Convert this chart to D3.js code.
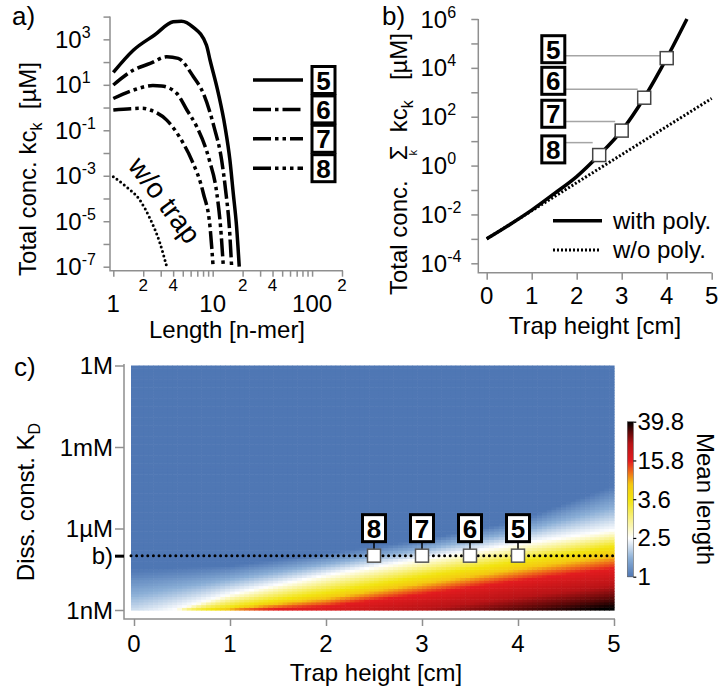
<!DOCTYPE html>
<html>
<head>
<meta charset="utf-8">
<script src="https://cdn.jsdelivr.net/npm/d3@7"></script>
<style>
  body { margin: 0; background: #fff; }
  text { font-family: "Liberation Sans", Arial, sans-serif; fill: #000; }
</style>
</head>
<body>
<svg id="fig" width="719" height="691"></svg>
<script>
// ---- panel a: total concentration vs length (uM) ----
const len5 = [1, 1.6, 2.6, 4.0, 4.85, 6.3, 8.65, 9.4, 11.4, 13.3, 14.9, 16.1, 17.4, 18.5];
const conc5 = [35, 340, 1550, 5900, 6300, 3550, 560, 123, 4.2, 0.145, 4.9e-3, 1.7e-4, 5.7e-6, 1e-7];
const len6 = [1, 1.6, 2.35, 3.45, 4.5, 6.4, 8.05, 10.3, 12.3, 13.6, 14.7, 15.5];
const conc6 = [9.8, 45, 87, 170, 145, 22.6, 4.2, 0.145, 4.9e-3, 1.7e-4, 5.7e-6, 1e-7];
const len7 = [1, 1.6, 2.5, 3.05, 4.35, 5.5, 6.9, 9.25, 11.0, 12.0, 12.8];
const conc7 = [2.5, 5.9, 9.3, 8.9, 4.2, 0.78, 0.145, 4.9e-3, 1.7e-4, 5.7e-6, 1e-7];
const len8 = [1, 1.5, 1.95, 2.35, 3.45, 5.05, 6.15, 8.05, 9.4, 10.1];
const conc8 = [0.78, 0.89, 0.93, 0.78, 0.28, 0.027, 4.9e-3, 1.7e-4, 5.7e-6, 1e-7];
const lenNoTrap = [1, 1.35, 1.85, 2.35, 2.95, 3.45];
const concNoTrap = [9.1e-4, 3.3e-4, 8.5e-5, 1.26e-5, 1.07e-6, 1e-7];
const seriesLabels = ["5", "6", "7", "8"];

// ---- panel b: total concentration vs trap height ----
const trapHeights = [0, 0.5, 1, 1.5, 2, 2.5, 3, 3.5, 4, 4.45];
const concWithPoly = [1e-3, 3.7e-3, 0.015, 0.071, 0.355, 2.7, 27, 600, 2.5e4, 1e6];
const trapHeightsNoPoly = [0, 5];
const concNoPoly = [1e-3, 560];
const markHeights = [2.5, 3, 3.5, 4];
const markLabels = ["8", "7", "6", "5"];

// ---- panel c: mean length map, read as contour positions (log10 KD in M) ----
const contourHeights = [0, 1, 2, 3, 4, 5];
const logKdBlue   = [-7.5, -7.35, -6.9, -6.4, -5.7, -4.4];
const logKdWhite  = [-9.4, -8.4, -7.7, -7.1, -6.55, -6.05];
const logKdYellow = [-9.3, -8.88, -8.35, -7.75, -7.2, -6.65];
const logKdRed    = [-9.6, -9.05, -8.85, -8.4, -7.9, -7.45];
const logKdBlack  = [-11, -10.5, -10.1, -9.7, -9.3, -8.9];
const kdTicks = [1, 1e-3, 1e-6, 1e-7, 1e-9];
const kdTickLabels = ["1M", "1mM", "1µM", "b)", "1nM"];
const kdSlice = 1e-7;
const colorbarLabels = ["1", "2.5", "3.6", "15.8", "39.8"];

const svg = d3.select("#fig");
const gray = "#8f8f8f";
const nb = "\u00A0";

function styleAxis(g) {
  g.select(".domain").remove();
  g.selectAll(".tick line").attr("stroke", gray).attr("stroke-width", 1.5);
}

function numBox(g, cx, cy, label) {
  g.append("rect")
    .attr("x", cx - 11.5).attr("y", cy - 13.5)
    .attr("width", 23).attr("height", 27)
    .attr("fill", "#fff").attr("stroke", "#000").attr("stroke-width", 3);
  g.append("text")
    .attr("x", cx).attr("y", cy + 9.5)
    .attr("text-anchor", "middle")
    .attr("font-size", 26).attr("font-weight", "bold")
    .text(label);
}

function powLabel(g, x, y, exp) {
  const t = g.append("text").attr("x", x).attr("y", y).attr("font-size", 24);
  t.append("tspan").text("10");
  t.append("tspan").attr("font-size", 16).attr("dy", -10).text(exp);
}

// ================= panel a =================
const xA = d3.scaleLog().domain([1, 200]).range([113.3, 342]);
const yA = d3.scaleLog().domain([1e-7, 1e4]).range([266.7, 16.6]);
const gA = svg.append("g");

gA.append("path")
  .attr("d", `M110,${yA(1e4)}V270.7H343`)
  .attr("fill", "none").attr("stroke", gray).attr("stroke-width", 1.5);

gA.append("g").attr("transform", "translate(110,0)")
  .call(d3.axisLeft(yA).tickValues(d3.range(-7, 5).map(e => Math.pow(10, e))).tickSize(6.5).tickFormat(""))
  .call(styleAxis);
[3, 1, -1, -3, -5, -7].forEach(e => powLabel(gA, 55, yA(Math.pow(10, e)) + 8.5, String(e)));

const lenTicks = d3.range(1, 10).concat(d3.range(10, 100, 10), [100, 200]);
gA.append("g").attr("transform", "translate(0,270.7)")
  .call(d3.axisBottom(xA).tickValues(lenTicks).tickSize(6).tickFormat(""))
  .call(styleAxis);
[2, 4, 20, 40, 200].forEach(v => {
  gA.append("text").attr("x", xA(v)).attr("y", 291).attr("text-anchor", "middle")
    .attr("font-size", 17).text(String(v)[0]);
});
[1, 10, 100].forEach(v => {
  gA.append("text").attr("x", xA(v)).attr("y", 312).attr("text-anchor", "middle")
    .attr("font-size", 24).text(v);
});
gA.append("text").attr("x", 227).attr("y", 338).attr("text-anchor", "middle")
  .attr("font-size", 24).text("Length [n-mer]");

const yTitleA = gA.append("text").attr("transform", "translate(36,169) rotate(-90)")
  .attr("text-anchor", "middle").attr("font-size", 24);
yTitleA.append("tspan").text("Total conc. kc");
yTitleA.append("tspan").attr("font-size", 16).attr("dy", 6).text("k");
yTitleA.append("tspan").attr("dy", -6).text(nb + nb + "[µM]");

gA.append("text").attr("x", 12).attr("y", 25).attr("font-size", 26).text("a)");

const lineA = d3.line().x(d => xA(d[0])).y(d => yA(d[1])).curve(d3.curveMonotoneX);
const curvesA = [
  { len: len5, conc: conc5, dash: null },
  { len: len6, conc: conc6, dash: "18,4,3.5,4" },
  { len: len7, conc: conc7, dash: "18,4,3.5,4,3.5,4" },
  { len: len8, conc: conc8, dash: "18,4,3.5,4,3.5,4,3.5,4" }
];
curvesA.forEach(c => {
  gA.append("path").datum(d3.zip(c.len, c.conc)).attr("d", lineA)
    .attr("fill", "none").attr("stroke", "#000").attr("stroke-width", 3.5)
    .attr("stroke-dasharray", c.dash);
});
gA.append("path").datum(d3.zip(lenNoTrap, concNoTrap)).attr("d", lineA)
  .attr("fill", "none").attr("stroke", "#000").attr("stroke-width", 3)
  .attr("stroke-linecap", "round").attr("stroke-dasharray", "0,4.6");
gA.append("text").attr("transform", "translate(157,206) rotate(53)")
  .attr("text-anchor", "middle").attr("font-size", 28).text("w/o trap");

curvesA.forEach((c, i) => {
  const y = 80 + i * 29.4;
  gA.append("line").attr("x1", 253).attr("x2", 303).attr("y1", y).attr("y2", y)
    .attr("stroke", "#000").attr("stroke-width", 3.5).attr("stroke-dasharray", c.dash);
  numBox(gA, 323.5, y, seriesLabels[i]);
});

// ================= panel b =================
const xB = d3.scaleLinear().domain([0, 5]).range([486.7, 711.7]);
const yB = d3.scaleLog().domain([1e-4, 1e6]).range([263.3, 19]);
const gB = svg.append("g");

gB.append("path")
  .attr("d", `M478.3,${yB(1e6)}V272.7H711.7`)
  .attr("fill", "none").attr("stroke", gray).attr("stroke-width", 1.5);
gB.append("g").attr("transform", "translate(478.3,0)")
  .call(d3.axisLeft(yB).tickValues(d3.range(-4, 7).map(e => Math.pow(10, e))).tickSize(7).tickFormat(""))
  .call(styleAxis);
[6, 4, 2, 0, -2, -4].forEach(e => powLabel(gB, 420.5, yB(Math.pow(10, e)) + 8.5, String(e)));
gB.append("g").attr("transform", "translate(0,272.7)")
  .call(d3.axisBottom(xB).tickValues(d3.range(0, 6)).tickSize(7).tickFormat(""))
  .call(styleAxis);
d3.range(0, 6).forEach(v => {
  gB.append("text").attr("x", xB(v)).attr("y", 304).attr("text-anchor", "middle")
    .attr("font-size", 24).text(v);
});
gB.append("text").attr("x", 595).attr("y", 334).attr("text-anchor", "middle")
  .attr("font-size", 24).text("Trap height [cm]");

const yTitleB = gB.append("text").attr("transform", "translate(407,164) rotate(-90)")
  .attr("text-anchor", "middle").attr("font-size", 24);
yTitleB.append("tspan").text("Total conc." + nb + nb + nb + "Σ");
yTitleB.append("tspan").attr("font-size", 11).attr("dx", -10).attr("dy", 10).text("k");
yTitleB.append("tspan").attr("dx", 4.5).attr("dy", -10).text(nb + nb + "kc");
yTitleB.append("tspan").attr("font-size", 16).attr("dy", 6).text("k");
yTitleB.append("tspan").attr("dy", -6).text(nb + nb + nb + "[µM]");

gB.append("text").attr("x", 382).attr("y", 25).attr("font-size", 26).text("b)");

const lineB = d3.line().x(d => xB(d[0])).y(d => yB(d[1])).curve(d3.curveMonotoneX);
gB.append("path").datum(d3.zip(trapHeightsNoPoly, concNoPoly)).attr("d", lineB)
  .attr("fill", "none").attr("stroke", "#000").attr("stroke-width", 3)
  .attr("stroke-dasharray", "2,2");
gB.append("path").datum(d3.zip(trapHeights, concWithPoly)).attr("d", lineB)
  .attr("fill", "none").attr("stroke", "#000").attr("stroke-width", 3.5);

// number boxes with grey leaders (annotation layout, concentrations on the y scale)
const boxConcB = [4.6, 132, 2950, 5.8e4];
const leaderConcB = [8.7, 63, 1320, 3.1e4];
markHeights.forEach((h, i) => {
  const v = concWithPoly[trapHeights.indexOf(h)];
  gB.append("line").attr("x1", 565).attr("x2", xB(h) - 6.5)
    .attr("y1", yB(leaderConcB[i])).attr("y2", yB(leaderConcB[i]))
    .attr("stroke", "#a5a5a5").attr("stroke-width", 1.5);
  gB.append("rect").attr("x", xB(h) - 6.5).attr("y", yB(v) - 6.5)
    .attr("width", 13).attr("height", 13)
    .attr("fill", "#fff").attr("stroke", "#444").attr("stroke-width", 1.5);
  numBox(gB, 553.3, yB(boxConcB[i]), markLabels[i]);
});

gB.append("line").attr("x1", 553).attr("x2", 602).attr("y1", 220.7).attr("y2", 220.7)
  .attr("stroke", "#000").attr("stroke-width", 3.5);
gB.append("text").attr("x", 613).attr("y", 229).attr("font-size", 24).text("with poly.");
gB.append("line").attr("x1", 553).attr("x2", 600).attr("y1", 250).attr("y2", 250)
  .attr("stroke", "#000").attr("stroke-width", 3).attr("stroke-dasharray", "2,2");
gB.append("text").attr("x", 613).attr("y", 258).attr("font-size", 24).text("w/o poly.");

// ================= panel c =================
const xC = d3.scaleLinear().domain([0, 5]).range([134, 614]);
const yC = d3.scaleLog().domain([1e-9, 1]).range([610, 365.5]);
const gC = svg.append("g");

const cmap = d3.scaleLinear()
  .domain([0, 0.12, 0.25, 0.5, 0.6, 0.68, 0.75, 0.86, 0.94, 1])
  .range(["#4f77b4", "#8aaed6", "#ffffff", "#f2e40f", "#f4c812", "#ee6a1a", "#e31c1f", "#b81417", "#5a0808", "#000000"])
  .interpolate(d3.interpolateRgb);

const levels = [logKdBlue, logKdWhite, logKdYellow, logKdRed, logKdBlack]
  .map(arr => d3.scaleLinear().domain(contourHeights).range(arr));
function levelAt(h, lk) {
  const c = levels.map(s => s(h));
  if (lk >= c[0]) return 0;
  for (let i = 0; i < c.length - 1; i++) {
    if (lk >= c[i + 1]) return (i + (c[i] - lk) / (c[i] - c[i + 1])) / 4;
  }
  return 1;
}

const dh = 0.05, dk = 0.1;
const hSteps = d3.range(0, 5 - 1e-9, dh);
const kSteps = d3.range(-9, -1e-9, dk);
const cells = d3.cross(hSteps, kSteps).map(([h, k]) => ({ h, k, t: levelAt(h + dh / 2, k + dk / 2) }));
gC.append("g").selectAll("rect").data(cells).join("rect")
  .attr("x", d => xC(d.h) - (d.h === 0 ? 3 : 0))
  .attr("width", d => xC(d.h + dh) - xC(d.h) + 0.6 + (d.h === 0 ? 3 : 0))
  .attr("y", d => yC(Math.pow(10, d.k + dk)))
  .attr("height", d => yC(Math.pow(10, d.k)) - yC(Math.pow(10, d.k + dk)) + 0.6)
  .attr("fill", d => cmap(d.t));

gC.append("path").attr("d", `M124,364V619H615`)
  .attr("fill", "none").attr("stroke", gray).attr("stroke-width", 1.5);
const yAxC = gC.append("g").attr("transform", "translate(124,0)")
  .call(d3.axisLeft(yC).tickValues(kdTicks).tickSize(9).tickFormat(""))
  .call(styleAxis);
yAxC.selectAll(".tick line").filter(d => d === kdSlice).attr("stroke", "#000").attr("stroke-width", 3);
kdTicks.forEach((v, i) => {
  gC.append("text").attr("x", 113).attr("y", yC(v) + 8.5).attr("text-anchor", "end")
    .attr("font-size", 24).text(kdTickLabels[i]);
});
gC.append("g").attr("transform", "translate(0,619)")
  .call(d3.axisBottom(xC).tickValues(d3.range(0, 6)).tickSize(7).tickFormat(""))
  .call(styleAxis);
d3.range(0, 6).forEach(v => {
  gC.append("text").attr("x", xC(v)).attr("y", 652).attr("text-anchor", "middle")
    .attr("font-size", 24).text(v);
});
gC.append("text").attr("x", 376).attr("y", 681).attr("text-anchor", "middle")
  .attr("font-size", 24).text("Trap height [cm]");
const yTitleC = gC.append("text").attr("transform", "translate(34,502) rotate(-90)")
  .attr("text-anchor", "middle").attr("font-size", 24);
yTitleC.append("tspan").text("Diss. const. K");
yTitleC.append("tspan").attr("font-size", 16).attr("dy", 6).text("D");
gC.append("text").attr("x", 14).attr("y", 376).attr("font-size", 26).text("c)");

gC.append("line").attr("x1", 131).attr("x2", 614).attr("y1", yC(kdSlice)).attr("y2", yC(kdSlice))
  .attr("stroke", "#000").attr("stroke-width", 3).attr("stroke-linecap", "round")
  .attr("stroke-dasharray", "0,5.6");
markHeights.forEach((h, i) => {
  const cx = xC(h), cy = yC(kdSlice);
  gC.append("line").attr("x1", cx).attr("x2", cx).attr("y1", cy - 22).attr("y2", cy - 6)
    .attr("stroke", "#000").attr("stroke-width", 1.5);
  gC.append("rect").attr("x", cx - 6.5).attr("y", cy - 6.5).attr("width", 13).attr("height", 13)
    .attr("fill", "#fff").attr("stroke", "#555").attr("stroke-width", 1.5);
  numBox(gC, cx, cy - 27.5, markLabels[i]);
});

// colorbar
const yCb = d3.scaleLinear().domain([0, 1]).range([576.7, 421.7]);
const cbSteps = d3.range(0, 1, 1 / 155);
gC.append("g").selectAll("rect").data(cbSteps).join("rect")
  .attr("x", 627.3).attr("width", 6)
  .attr("y", d => yCb(d + 1 / 155)).attr("height", d => yCb(d) - yCb(d + 1 / 155) + 0.5)
  .attr("fill", d => cmap(d + 0.5 / 155));
gC.append("rect").attr("x", 627.3).attr("y", 421.7).attr("width", 6).attr("height", 155)
  .attr("fill", "none").attr("stroke", "#666").attr("stroke-width", 0.6);
const cbPos = colorbarLabels.map((_, i) => i / (colorbarLabels.length - 1));
gC.append("g").attr("transform", "translate(633.3,0)")
  .call(d3.axisRight(yCb).tickValues(cbPos).tickSize(3).tickFormat(""))
  .call(g => { g.select(".domain").remove(); g.selectAll(".tick line").attr("stroke", "#000").attr("stroke-width", 1.2); });
colorbarLabels.forEach((lab, i) => {
  gC.append("text").attr("x", 637.5).attr("y", yCb(cbPos[i]) + 8.5)
    .attr("font-size", 24).text(lab);
});
gC.append("text").attr("transform", "translate(697,499) rotate(90)")
  .attr("text-anchor", "middle").attr("font-size", 24).text("Mean length");
</script>
</body>
</html>
